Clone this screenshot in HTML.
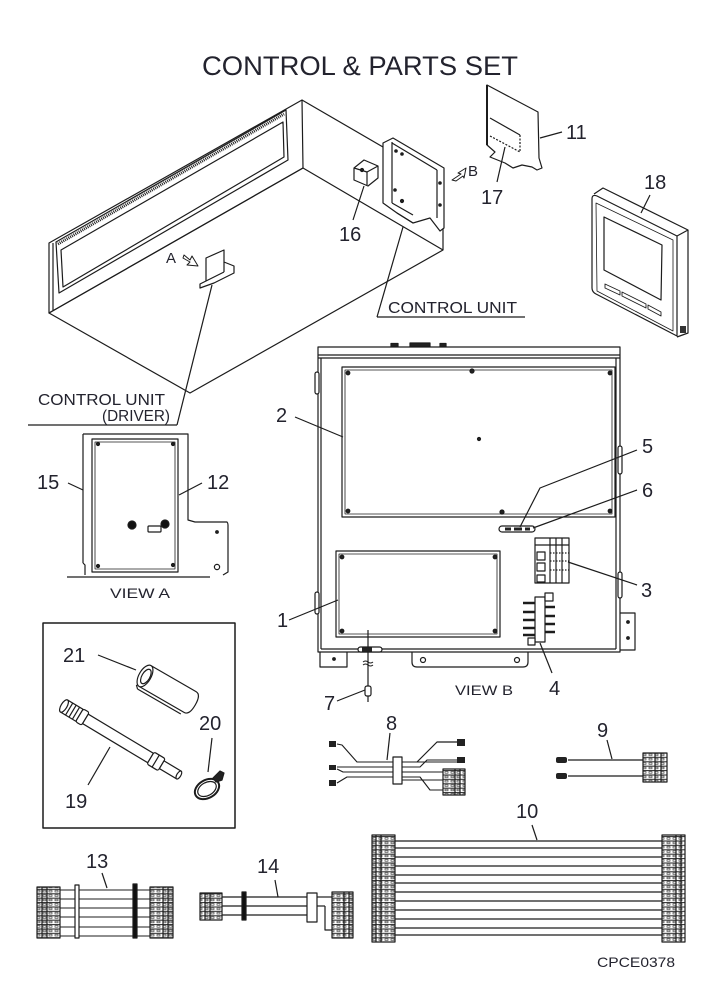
<!DOCTYPE html>
<html><head><meta charset="utf-8"><style>
html,body{margin:0;padding:0;background:#fff;}
svg{display:block;}
text{font-family:"Liberation Sans",Arial,sans-serif;fill:#23232e;}
</style></head><body>
<svg width="712" height="987" viewBox="0 0 712 987" xmlns="http://www.w3.org/2000/svg">
<defs>
<pattern id="hl" width="6" height="4.4" patternUnits="userSpaceOnUse"><rect width="6" height="4.4" fill="#fff"/><line x1="0" y1="0.6" x2="6" y2="0.6" stroke="#222" stroke-width="1"/><rect x="1" y="1.6" width="3" height="1.6" fill="none" stroke="#444" stroke-width="0.7"/></pattern>
</defs>
<rect width="712" height="987" fill="#fff"/>

<!-- Title -->
<text x="202" y="75" font-size="27" textLength="316" lengthAdjust="spacingAndGlyphs">CONTROL &amp; PARTS SET</text>

<g fill="none" stroke="#1c1c1c" stroke-width="1.2" stroke-linejoin="round">
<!-- Duct unit -->
<polygon points="49,243 302,100 303,168 49,313" fill="#fff"/>
<line x1="53" y1="243" x2="53" y2="311"/>
<polygon points="49,313 303,168 443,250 190,393"/>
<line x1="302" y1="100" x2="383" y2="147"/>
<line x1="443" y1="226" x2="443" y2="250"/>
<!-- grille -->
<polygon points="56,242 286,110 288,160 59,293"/>
<polygon points="61,250 283,122 284,157 63,287"/>
<line x1="58" y1="244" x2="284" y2="114" stroke-width="3" stroke-dasharray="1 1"/>
<!-- control box (right) -->
<polygon points="383,143 393,138 444,168 444,228 440,231 430,218 413,223 397,213 383,203" fill="#fff"/>
<line x1="392" y1="142" x2="392" y2="203"/>
<line x1="392" y1="143" x2="437" y2="170"/>
<line x1="437" y1="170" x2="437" y2="218"/>
<line x1="392" y1="203" x2="413" y2="215"/>
<line x1="397" y1="213" x2="413" y2="223"/>
<circle cx="396" cy="151" r="1.2" fill="#222"/><circle cx="402" cy="154" r="1.2" fill="#222"/>
<circle cx="395" cy="190" r="1.2" fill="#222"/><circle cx="440" cy="183" r="1.2" fill="#222"/>
<circle cx="440" cy="205" r="1.2" fill="#222"/><circle cx="402" cy="201" r="1.5" fill="#222"/>
<!-- 16 bracket -->
<polygon points="354,168 364,160 378,166 378,178 368,186 354,180" fill="#fff"/>
<polyline points="354,168 367,172 378,166"/><line x1="367" y1="172" x2="367" y2="185"/>
<circle cx="362" cy="170" r="1.5" fill="#222"/>
<line x1="353" y1="220" x2="364" y2="186"/>
<!-- A bracket -->
<polygon points="206,258 224,250 224,262 234,266 234,273 214,283 200,288 200,284 206,281" fill="#fff"/>
<line x1="206" y1="281" x2="224" y2="272"/><line x1="224" y1="262" x2="224" y2="272"/>
<line x1="212" y1="285" x2="177" y2="425"/>
<line x1="28" y1="425" x2="177" y2="425"/>
<line x1="403" y1="227" x2="377" y2="317"/>
<line x1="377" y1="317" x2="525" y2="317"/>
<!-- A arrow -->
<path d="M184,255 L190,260 L192,256 L198,266 L187,265 L190,262 L183,258 Z" stroke-width="1"/>
<!-- B arrow -->
<path d="M466,168 L458,173 L461,174 L452,180 L456,181 L463,176 L464,178 Z" stroke-width="1"/>

<!-- Part 11 plate -->
<path d="M487,85 L538,112 L539,158 L542,168 L537,170 L532,167 L522,165 L513,168 L505,163 L490,157 L495,152 L487,145 Z" fill="#fff"/>
<line x1="487" y1="85" x2="487" y2="145" stroke-width="2"/>
<line x1="490" y1="118" x2="520" y2="135"/>
<line x1="490" y1="136" x2="520" y2="152" stroke-dasharray="2 1.5"/>
<line x1="520" y1="135" x2="520" y2="152" stroke-dasharray="2 1.5"/>
<line x1="540" y1="138" x2="562" y2="132"/>
<line x1="505" y1="147" x2="497" y2="182"/>

<!-- 18 remote -->
<path d="M592,199 Q592,194 597,196 L677,236 L677,336 L596,294 Q592,292 592,288 Z" fill="#fff"/>
<polyline points="594,194 603,188 688,230 677,236"/>
<polyline points="688,230 688,333 677,337"/>
<path d="M596,203 L673,240 L673,331 L597,291 Z" stroke-width="0.8"/>
<polygon points="604,217 662,245 661,300 604,270"/>
<polygon points="605,284 620,291 620,295 605,288" stroke-width="0.9"/>
<polygon points="622,292 646,304 646,308 622,296" stroke-width="0.9"/>
<polygon points="648,305 661,312 661,316 648,309" stroke-width="0.9"/>
<rect x="680" y="326" width="6" height="7" fill="#333" stroke="none"/>
<line x1="650" y1="195" x2="641" y2="213"/>

<!-- VIEW B panel -->
<rect x="318" y="347" width="302" height="305"/>
<line x1="318" y1="355" x2="620" y2="355"/><line x1="318" y1="358" x2="620" y2="358"/>
<line x1="321" y1="358" x2="321" y2="649"/><line x1="616" y1="358" x2="616" y2="649"/>
<line x1="321" y1="649" x2="616" y2="649"/>
<rect x="391" y="343.5" width="7" height="3" fill="#222"/><rect x="410" y="343" width="20" height="3.5" fill="#222"/><rect x="440" y="343.5" width="6" height="3" fill="#222"/>
<rect x="315" y="372" width="4" height="22" rx="2" fill="#fff"/><rect x="315" y="592" width="4" height="22" rx="2" fill="#fff"/>
<rect x="618" y="446" width="4" height="28" rx="2" fill="#fff"/><rect x="618" y="572" width="4" height="26" rx="2" fill="#fff"/>
<rect x="342" y="367" width="273" height="150"/><rect x="345" y="370" width="267" height="144" stroke-width="0.8"/>
<circle cx="348" cy="373" r="1.8" fill="#222"/><circle cx="610" cy="373" r="1.8" fill="#222"/>
<circle cx="348" cy="511" r="1.8" fill="#222"/><circle cx="610" cy="511" r="1.8" fill="#222"/>
<circle cx="472" cy="371" r="2" fill="#222"/><circle cx="502" cy="512" r="2" fill="#222"/>
<circle cx="479" cy="439" r="1.5" fill="#222"/>
<rect x="336" y="551" width="164" height="86"/><rect x="339" y="554" width="158" height="80" stroke-width="0.8"/>
<circle cx="342" cy="557" r="1.8" fill="#222"/><circle cx="495" cy="557" r="1.8" fill="#222"/>
<circle cx="342" cy="631" r="1.8" fill="#222"/><circle cx="495" cy="631" r="1.8" fill="#222"/>
<!-- 5/6 bar -->
<rect x="499" y="526" width="36" height="6" rx="3" fill="#fff"/>
<rect x="505" y="527.5" width="6" height="3" fill="#222" stroke="none"/><rect x="514" y="527.5" width="8" height="3" fill="#222" stroke="none"/><rect x="525" y="527.5" width="5" height="3" fill="#222" stroke="none"/>
<!-- 3 -->
<rect x="535" y="538" width="34" height="45"/>
<line x1="535" y1="545" x2="569" y2="545"/><line x1="550" y1="538" x2="550" y2="583"/><line x1="556" y1="538" x2="556" y2="583"/><line x1="562" y1="538" x2="562" y2="583"/>
<rect x="537" y="552" width="8" height="8"/><rect x="537" y="563" width="8" height="8"/><rect x="537" y="575" width="8" height="7"/>
<line x1="550" y1="561" x2="569" y2="561" stroke-dasharray="1.5 1.5"/><line x1="550" y1="570" x2="569" y2="570" stroke-dasharray="1.5 1.5"/><line x1="550" y1="553" x2="569" y2="553" stroke-dasharray="1.5 1.5"/>
<!-- 4 -->
<rect x="535" y="597" width="10" height="45" fill="#fff"/>
<rect x="545" y="593" width="8" height="8" fill="#fff"/><rect x="528" y="638" width="7" height="7" fill="#fff"/>
<g stroke-width="2.5"><line x1="523" y1="603" x2="535" y2="603"/><line x1="523" y1="612" x2="535" y2="612"/><line x1="523" y1="620" x2="535" y2="620"/><line x1="523" y1="628" x2="535" y2="628"/><line x1="523" y1="635" x2="535" y2="635"/>
<line x1="545" y1="607" x2="555" y2="607"/><line x1="545" y1="616" x2="555" y2="616"/><line x1="545" y1="624" x2="555" y2="624"/><line x1="545" y1="632" x2="555" y2="632"/></g>
<!-- tabs -->
<path d="M320,652 L320,667 L347,667 L347,652"/><circle cx="334" cy="659" r="1.3" fill="#222"/>
<path d="M412,652 L412,662 Q412,667 417,667 L523,667 Q528,667 528,662 L528,652"/><circle cx="423" cy="660" r="2.5"/><circle cx="517" cy="660" r="2.5"/>
<path d="M620,613 L635,613 L635,650 L620,650"/><circle cx="628" cy="622" r="1.3" fill="#222"/><circle cx="628" cy="638" r="1.3" fill="#222"/>
<!-- cable 7 -->
<line x1="368" y1="630" x2="368" y2="688"/>
<rect x="358" y="647" width="24" height="5" rx="2.5" fill="#fff"/><rect x="362" y="647.5" width="10" height="4" fill="#222" stroke="none"/>
<path d="M363,662 q2.5,-2 5,0 t5,0 M363,665 q2.5,-2 5,0 t5,0" stroke-width="1"/>
<rect x="365" y="686" width="6" height="10" rx="2" fill="#fff"/><line x1="368" y1="696" x2="368" y2="702"/>
<!-- leaders view B -->
<line x1="295" y1="417" x2="343" y2="437"/>
<line x1="289" y1="620" x2="338" y2="600"/>
<polyline points="637,450 540,488 520,527"/>
<line x1="637" y1="490" x2="533" y2="528"/>
<line x1="568" y1="562" x2="637" y2="585"/>
<line x1="540" y1="643" x2="552" y2="673"/>
<line x1="337" y1="701" x2="365" y2="690"/>

<!-- VIEW A -->
<path d="M83,434 L188,434 L188,520 L195,522 L227,522 Q228,523 228,525 L228,572 L223,575"/>
<line x1="83" y1="434" x2="83" y2="563"/><polyline points="83,563 85,565 85,575"/>
<line x1="67" y1="577" x2="210" y2="577"/>
<rect x="92" y="439" width="86" height="133"/><rect x="95" y="442" width="80" height="127" stroke-width="0.8"/>
<circle cx="98" cy="444" r="1.5" fill="#222"/><circle cx="173" cy="444" r="1.5" fill="#222"/>
<circle cx="98" cy="566" r="1.5" fill="#222"/><circle cx="173" cy="565" r="1.5" fill="#222"/>
<circle cx="132" cy="525" r="4" fill="#111"/><circle cx="165" cy="524" r="4" fill="#111"/>
<rect x="148" y="526" width="13" height="6" rx="1" fill="#fff"/>
<circle cx="217" cy="532" r="1.3" fill="#222"/><circle cx="217" cy="567" r="2.6"/>
<line x1="68" y1="483" x2="83" y2="490"/>
<line x1="202" y1="483" x2="179" y2="495"/>

<!-- Box 19-21 -->
<rect x="43" y="623" width="192" height="205" stroke-width="1.5"/>
<g transform="translate(145,676) rotate(30)">
<path d="M0,-12 L52,-12 Q58,-12 58,0 Q58,12 52,12 L0,12" fill="#fff"/>
<ellipse cx="0" cy="0" rx="6" ry="12" fill="#fff"/><ellipse cx="1" cy="0" rx="4" ry="8"/>
<line x1="0" y1="15" x2="50" y2="15"/><line x1="-3" y1="12" x2="0" y2="15"/>
</g>
<line x1="98" y1="655" x2="136" y2="670"/>
<g transform="translate(64,706) rotate(31)">
<rect x="0" y="-7" width="18" height="14" fill="#fff"/>
<ellipse cx="0" cy="0" rx="3" ry="7" fill="#fff"/>
<line x1="6" y1="-7" x2="6" y2="7"/><line x1="10" y1="-7" x2="10" y2="7"/><line x1="14" y1="-7" x2="14" y2="7"/>
<rect x="18" y="-7.5" width="7" height="15" rx="2" fill="#fff"/>
<rect x="25" y="-5.5" width="76" height="11" fill="#fff"/>
<rect x="101" y="-7" width="13" height="14" rx="2" fill="#fff"/><line x1="107" y1="-7" x2="107" y2="7"/>
<rect x="114" y="-4.5" width="20" height="9" fill="#fff"/><ellipse cx="134" cy="0" rx="2" ry="4.5" fill="#fff"/>
</g>
<line x1="88" y1="785" x2="110" y2="747"/>
<ellipse cx="207" cy="789" rx="13" ry="9" transform="rotate(-30 207 789)" stroke-width="2"/>
<ellipse cx="207" cy="789" rx="10" ry="6.5" transform="rotate(-30 207 789)"/>
<polygon points="213,778 220,771 224,773 222,780 216,782" fill="#222"/>
<line x1="212" y1="738" x2="208" y2="772"/>

<!-- cable 8 -->
<g stroke-width="1.1">
<polyline points="337,744 342,745 357,762 458,762"/>
<line x1="402" y1="762" x2="402" y2="762"/>
<polyline points="337,767 393,767"/><polyline points="402,767 420,767 427,760 458,760"/>
<polyline points="337,769 343,772 393,772"/><polyline points="402,772 443,772"/>
<polyline points="337,783 347,777 393,777"/><polyline points="402,777 420,777 430,790 443,790"/>
<polyline points="402,780 443,780"/>
</g>
<rect x="393" y="757" width="9" height="27" fill="#fff"/>
<polyline points="417,762 437,742 458,742" />
<rect x="329" y="741" width="7" height="6" fill="#222" stroke="none"/><rect x="329" y="765" width="7" height="5" fill="#222" stroke="none"/><rect x="329" y="780" width="7" height="6" fill="#222" stroke="none"/>
<rect x="457" y="739" width="8" height="7" fill="#222" stroke="none"/><rect x="457" y="757" width="8" height="6" fill="#222" stroke="none"/>
<rect x="443" y="769" width="22" height="26" fill="url(#hl)"/><line x1="455" y1="769" x2="455" y2="795"/><line x1="460" y1="769" x2="460" y2="795"/>
<line x1="390" y1="733" x2="387" y2="760"/>

<!-- cable 9 -->
<line x1="568" y1="760" x2="643" y2="760"/><line x1="568" y1="776" x2="643" y2="776"/>
<rect x="556" y="757" width="11" height="6" rx="2" fill="#222" stroke="none"/><rect x="556" y="773" width="11" height="6" rx="2" fill="#222" stroke="none"/>
<rect x="643" y="753" width="24" height="29" fill="url(#hl)"/><line x1="655" y1="753" x2="655" y2="782"/><line x1="661" y1="753" x2="661" y2="782"/>
<line x1="607" y1="740" x2="612" y2="759"/>

<!-- cable 13 -->
<g stroke-width="1.1">
<line x1="60" y1="890" x2="150" y2="890"/><line x1="60" y1="899" x2="150" y2="899"/><line x1="60" y1="908" x2="150" y2="908"/>
<line x1="60" y1="917" x2="150" y2="917"/><line x1="60" y1="927" x2="150" y2="927"/><line x1="60" y1="936" x2="150" y2="936"/>
</g>
<rect x="37" y="887" width="23" height="51" fill="url(#hl)"/><line x1="42" y1="887" x2="42" y2="938"/><line x1="47" y1="887" x2="47" y2="938"/>
<rect x="150" y="887" width="23" height="51" fill="url(#hl)"/><line x1="163" y1="887" x2="163" y2="938"/><line x1="168" y1="887" x2="168" y2="938"/>
<rect x="75" y="885" width="4" height="53" fill="#fff"/>
<rect x="133" y="884" width="4" height="54" fill="#111"/>
<line x1="102" y1="873" x2="107" y2="888"/>

<!-- cable 14 -->
<line x1="222" y1="897" x2="307" y2="897"/><line x1="222" y1="906" x2="307" y2="906"/><line x1="222" y1="915" x2="307" y2="915"/>
<line x1="317" y1="897" x2="332" y2="897"/><line x1="317" y1="906" x2="325" y2="906"/><polyline points="325,906 325,930 332,930"/>
<rect x="200" y="893" width="22" height="27" fill="url(#hl)"/><line x1="205" y1="893" x2="205" y2="920"/><line x1="210" y1="893" x2="210" y2="920"/>
<rect x="242" y="892" width="4" height="28" fill="#111"/>
<rect x="307" y="893" width="10" height="29" fill="#fff"/>
<rect x="332" y="892" width="21" height="46" fill="url(#hl)"/><line x1="344" y1="892" x2="344" y2="938"/><line x1="349" y1="892" x2="349" y2="938"/>
<line x1="275" y1="880" x2="278" y2="897"/>

<!-- cable 10 -->
<g stroke-width="1.3">
<line x1="395" y1="841" x2="662" y2="841"/><line x1="395" y1="848" x2="662" y2="848"/><line x1="395" y1="857" x2="662" y2="857"/>
<line x1="395" y1="866" x2="662" y2="866"/><line x1="395" y1="875" x2="662" y2="875"/><line x1="395" y1="883" x2="662" y2="883"/>
<line x1="395" y1="892" x2="662" y2="892"/><line x1="395" y1="901" x2="662" y2="901"/><line x1="395" y1="910" x2="662" y2="910"/>
<line x1="395" y1="919" x2="662" y2="919"/><line x1="395" y1="928" x2="662" y2="928"/><line x1="395" y1="935" x2="662" y2="935"/>
</g>
<rect x="372" y="835" width="23" height="107" fill="url(#hl)"/><line x1="376" y1="835" x2="376" y2="942"/><line x1="381" y1="835" x2="381" y2="942"/>
<rect x="662" y="835" width="23" height="107" fill="url(#hl)"/><line x1="676" y1="835" x2="676" y2="942"/><line x1="681" y1="835" x2="681" y2="942"/>
<line x1="532" y1="825" x2="537" y2="840"/>
</g>

<!-- Labels -->
<g font-size="20">
<text x="339" y="241">16</text>
<text x="566" y="139">11</text>
<text x="481" y="204">17</text>
<text x="644" y="189">18</text>
<text x="276" y="422">2</text>
<text x="642" y="453">5</text>
<text x="642" y="497">6</text>
<text x="641" y="597">3</text>
<text x="277" y="627">1</text>
<text x="549" y="695">4</text>
<text x="324" y="710">7</text>
<text x="37" y="489">15</text>
<text x="207" y="489">12</text>
<text x="63" y="662">21</text>
<text x="199" y="730">20</text>
<text x="65" y="808">19</text>
<text x="386" y="730">8</text>
<text x="597" y="737">9</text>
<text x="516" y="818">10</text>
<text x="86" y="868">13</text>
<text x="257" y="873">14</text>
</g>
<text x="166" y="263" font-size="15">A</text>
<text x="468" y="176" font-size="15">B</text>
<text x="388" y="313" font-size="16" textLength="129" lengthAdjust="spacingAndGlyphs">CONTROL UNIT</text>
<text x="38" y="405" font-size="16" textLength="127" lengthAdjust="spacingAndGlyphs">CONTROL UNIT</text>
<text x="102" y="421" font-size="16" textLength="68" lengthAdjust="spacingAndGlyphs">(DRIVER)</text>
<text x="110" y="598" font-size="14" textLength="60" lengthAdjust="spacingAndGlyphs">VIEW A</text>
<text x="455" y="695" font-size="14" textLength="58" lengthAdjust="spacingAndGlyphs">VIEW B</text>
<text x="597" y="967" font-size="14" textLength="78" lengthAdjust="spacingAndGlyphs">CPCE0378</text>
</svg>
</body></html>
